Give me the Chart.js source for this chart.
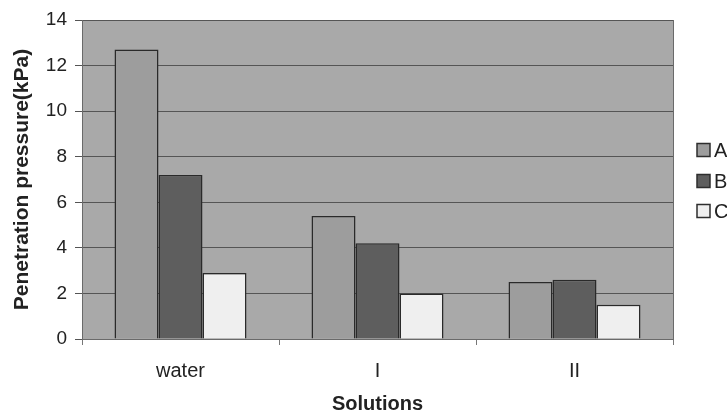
<!DOCTYPE html>
<html>
<head>
<meta charset="utf-8">
<script src="https://cdn.jsdelivr.net/npm/chart.js@4/dist/chart.umd.min.js"></script>
<style>
  html, body { margin: 0; padding: 0; background: #ffffff; overflow: hidden; }
  #wrap { width: 727px; height: 414px; }
</style>
</head>
<body>
<div id="wrap"><canvas id="c" width="727" height="414"></canvas></div>
<script>
const categories = ['water', 'I', 'II'];
const seriesNames = ['A', 'B', 'C'];
const seriesA = [12.7, 5.4, 2.5];
const seriesB = [7.2, 4.2, 2.6];
const seriesC = [2.9, 2.0, 1.5];
const yTickValues = [0, 2, 4, 6, 8, 10, 12, 14];

const FONT = "'Liberation Sans', Arial, Helvetica, sans-serif";
const colors = ['#9d9d9d', '#5e5e5e', '#efefef'];

const plotBg = {
  id: 'plotBg',
  beforeDraw(chart) {
    const a = chart.chartArea, ctx = chart.ctx;
    ctx.save();
    ctx.fillStyle = '#a9a9a9';
    ctx.fillRect(a.left, a.top, a.right - a.left, a.bottom - a.top);
    ctx.restore();
  },
  afterDatasetsDraw(chart) {
    const a = chart.chartArea, ctx = chart.ctx;
    ctx.save();
    ctx.strokeStyle = '#6a6a6a';
    ctx.lineWidth = 1;
    ctx.beginPath();
    ctx.moveTo(a.right + 0.5, a.top);
    ctx.lineTo(a.right + 0.5, a.bottom);
    ctx.stroke();
    ctx.restore();
  }
};

const sideLegend = {
  id: 'sideLegend',
  afterDraw(chart) {
    const ctx = chart.ctx;
    const centers = [150, 181, 211];
    ctx.save();
    ctx.font = "20px " + FONT;
    ctx.textBaseline = 'middle';
    ctx.textAlign = 'left';
    chart.data.datasets.forEach((ds, i) => {
      const cy = centers[i];
      ctx.fillStyle = ds.backgroundColor;
      ctx.fillRect(697, cy - 6.5, 13, 13);
      ctx.strokeStyle = '#2e2e2e';
      ctx.lineWidth = 1.5;
      ctx.strokeRect(697, cy - 6.5, 13, 13);
      ctx.fillStyle = '#222222';
      ctx.fillText(ds.label, 714, cy + 1);
    });
    ctx.restore();
  }
};

new Chart(document.getElementById('c'), {
  type: 'bar',
  data: {
    labels: categories,
    datasets: [
      { label: seriesNames[0], data: seriesA, backgroundColor: colors[0] },
      { label: seriesNames[1], data: seriesB, backgroundColor: colors[1] },
      { label: seriesNames[2], data: seriesC, backgroundColor: colors[2] }
    ].map(d => Object.assign(d, {
      borderColor: '#2a2a2a',
      borderWidth: 1.5,
      categoryPercentage: 0.67,
      barPercentage: 1.0
    }))
  },
  options: {
    responsive: false,
    animation: false,
    devicePixelRatio: 1,
    layout: { padding: { left: 0, right: 54, top: 20, bottom: 0 } },
    plugins: {
      legend: { display: false },
      tooltip: { enabled: false }
    },
    scales: {
      x: {
        grid: {
          display: true,
          drawOnChartArea: false,
          drawTicks: true,
          tickLength: 6,
          color: '#777777',
          offset: true
        },
        border: { display: true, color: '#6a6a6a', width: 1 },
        ticks: {
          color: '#222222',
          font: { family: FONT, size: 20 },
          padding: 14,
          maxRotation: 0
        },
        title: {
          display: true,
          text: 'Solutions',
          color: '#222222',
          font: { family: FONT, size: 20, weight: 'bold', lineHeight: 1 },
          padding: { top: 0, bottom: 0 }
        },
        afterFit(scale) { scale.height = 75; }
      },
      y: {
        min: 0,
        max: 14,
        afterBuildTicks(scale) { scale.ticks = yTickValues.map(v => ({ value: v })); },
        grid: {
          color: '#555555',
          lineWidth: 1,
          drawTicks: true,
          tickLength: 7
        },
        border: { display: true, color: '#6a6a6a', width: 1 },
        ticks: {
          color: '#222222',
          font: { family: FONT, size: 19 },
          padding: 8
        },
        title: {
          display: true,
          text: 'Penetration pressure(kPa)',
          color: '#222222',
          font: { family: FONT, size: 21, weight: 'bold', lineHeight: 1 },
          padding: { top: 12, bottom: 0 }
        },
        afterFit(scale) { scale.width = 82; }
      }
    }
  },
  plugins: [plotBg, sideLegend]
});
</script>
</body>
</html>
